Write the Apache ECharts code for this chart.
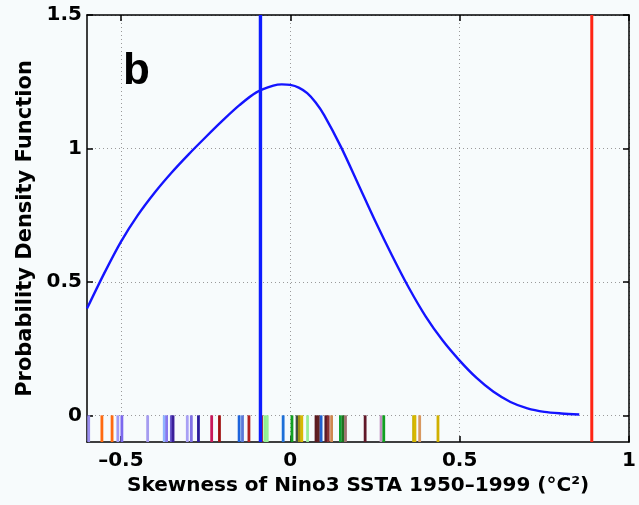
<!DOCTYPE html>
<html>
<head>
<meta charset="utf-8">
<script src="https://cdn.jsdelivr.net/npm/echarts@6/dist/echarts.min.js"></script>
<style>
html,body{margin:0;padding:0;background:#f7fbfc;}
#chart{width:639px;height:505px;}
</style>
</head>
<body>
<div id="chart"></div>
<script>
// ---- data ----
const xTicks = [-0.5, 0, 0.5, 1];
const yTicks = [0, 0.5, 1, 1.5];
const xRange = [-0.6, 1];
const yRange = [-0.1, 1.5];

const pdfX = [-0.6, -0.55, -0.5, -0.45, -0.4, -0.35, -0.3, -0.25, -0.2, -0.15, -0.1, -0.05, -0.025, 0.0, 0.025, 0.05, 0.075, 0.1, 0.15, 0.2, 0.25, 0.3, 0.35, 0.4, 0.45, 0.5, 0.55, 0.6, 0.65, 0.7, 0.75, 0.8, 0.853];
const pdfY = [0.40, 0.53, 0.65, 0.75, 0.835, 0.91, 0.978, 1.042, 1.104, 1.162, 1.21, 1.235, 1.240, 1.238, 1.228, 1.207, 1.172, 1.125, 1.005, 0.868, 0.73, 0.6, 0.478, 0.37, 0.28, 0.205, 0.14, 0.088, 0.05, 0.026, 0.013, 0.007, 0.003];

const rugX = [-0.595, -0.556, -0.526, -0.509, -0.497, -0.421, -0.372, -0.365, -0.351, -0.346, -0.304, -0.292, -0.271, -0.232, -0.209, -0.151, -0.141, -0.122, -0.085, -0.075, -0.068, -0.021, 0.005, 0.02, 0.027, 0.034, 0.051, 0.076, 0.083, 0.091, 0.105, 0.112, 0.122, 0.148, 0.156, 0.163, 0.221, 0.268, 0.276, 0.364, 0.368, 0.382, 0.436];
const rugColors = ['#9a8ef0', '#ff6a10', '#ff6a10', '#a09af5', '#7b68ee', '#a59cf0', '#8fb4ff', '#8878ee', '#6a5acd', '#3a1f9a', '#a8a0f5', '#8272e6', '#2a1a9a', '#c8185a', '#a01010', '#1e64dc', '#5a78d8', '#b02020', '#a01818', '#90ee90', '#98f098', '#1e70d8', '#10a020', '#405040', '#a09010', '#d8b800', '#98ee98', '#5a1a20', '#602020', '#2060d0', '#5a1a28', '#8a3030', '#d08850', '#10a030', '#207020', '#a07070', '#601828', '#c090c0', '#10a020', '#c8b000', '#d8b800', '#d89860', '#d0b000'];
const rugBase = -0.1;
const rugTop = 0;

const blueLineX = -0.088;
const redLineX = 0.89;

const xTitle = 'Skewness of Nino3 SSTA 1950\u20131999 (\u00B0C\u00B2)';
const yTitle = 'Probability Density Function';
const panelLabel = 'b';

// ---- chart ----
const font = '"DejaVu Sans", "Liberation Sans", Arial, sans-serif';
const chart = echarts.init(document.getElementById('chart'), null, {renderer: 'canvas'});

const axisLineStyle = {color: '#000', width: 1.5};
const gridStyle = {color: '#9a9a9a', width: 1, type: [1, 3]};

const pdfData = pdfX.map((x, i) => [x, pdfY[i]]);
const rugData = rugX.map((x, i) => [x, i]);

const option = {
  backgroundColor: '#f7fbfc',
  animation: false,
  grid: {left: 87, right: 5, top: 15, bottom: 63, containLabel: false},
  xAxis: [{
    type: 'value', min: xRange[0], max: xRange[1], position: 'bottom',
    axisLine: {show: true, onZero: false, lineStyle: axisLineStyle},
    axisTick: {show: true, inside: true, length: 6, customValues: xTicks, lineStyle: {color: '#000', width: 1.5}},
    axisLabel: {customValues: xTicks, color: '#000', fontFamily: font, fontWeight: 'bold', fontSize: 20, margin: 9,
      formatter: v => (v < 0 ? '\u2013' + Math.abs(v) : String(v))},
    splitLine: {show: true, lineStyle: gridStyle},
    name: xTitle, nameLocation: 'middle', nameGap: 33,
    nameTextStyle: {color: '#000', fontFamily: font, fontWeight: 'bold', fontSize: 20}
  }, {
    type: 'value', min: xRange[0], max: xRange[1], position: 'top',
    axisLine: {show: true, onZero: false, lineStyle: axisLineStyle},
    axisTick: {show: true, inside: true, length: 6, customValues: xTicks, lineStyle: {color: '#000', width: 1.5}},
    axisLabel: {show: false}, splitLine: {show: false}
  }],
  yAxis: [{
    type: 'value', min: yRange[0], max: yRange[1], position: 'left',
    axisLine: {show: true, onZero: false, lineStyle: axisLineStyle},
    axisTick: {show: true, inside: true, length: 6, customValues: yTicks, lineStyle: {color: '#000', width: 1.5}},
    axisLabel: {customValues: yTicks, color: '#000', fontFamily: font, fontWeight: 'bold', fontSize: 20, margin: 5},
    splitLine: {show: true, lineStyle: gridStyle},
    name: yTitle, nameLocation: 'middle', nameGap: 46,
    nameTextStyle: {color: '#000', fontFamily: font, fontWeight: 'bold', fontSize: 21}
  }, {
    type: 'value', min: yRange[0], max: yRange[1], position: 'right',
    axisLine: {show: true, onZero: false, lineStyle: axisLineStyle},
    axisTick: {show: true, inside: true, length: 6, customValues: yTicks, lineStyle: {color: '#000', width: 1.5}},
    axisLabel: {show: false}, splitLine: {show: false}
  }],
  series: [
    {
      type: 'custom', xAxisIndex: 0, yAxisIndex: 0, data: rugData, clip: true, z: 3,
      renderItem: function (params, api) {
        const x = api.value(0);
        const idx = api.value(1);
        const p1 = api.coord([x, rugBase]);
        const p2 = api.coord([x, rugTop]);
        return {type: 'line', shape: {x1: p1[0], y1: p1[1], x2: p2[0], y2: p2[1]},
          style: {stroke: rugColors[idx], lineWidth: 2.8}};
      }
    },
    {
      type: 'line', data: pdfData, smooth: 0.3, showSymbol: false, symbol: 'none', z: 4,
      lineStyle: {color: '#1414ff', width: 2.4}
    },
    {
      type: 'line', data: [[blueLineX, yRange[0]], [blueLineX, yRange[1]]], showSymbol: false, symbol: 'none', z: 5,
      lineStyle: {color: '#0d1cff', width: 3.4}
    },
    {
      type: 'line', data: [[redLineX, yRange[0]], [redLineX, yRange[1]]], showSymbol: false, symbol: 'none', z: 5,
      lineStyle: {color: '#ff2414', width: 3}
    }
  ],
  graphic: [{
    type: 'text', left: 123, top: 50,
    style: {text: panelLabel, font: 'bold 44px "Liberation Sans", Arial, sans-serif', fill: '#000'}
  }]
};
chart.setOption(option);
</script>
</body>
</html>
